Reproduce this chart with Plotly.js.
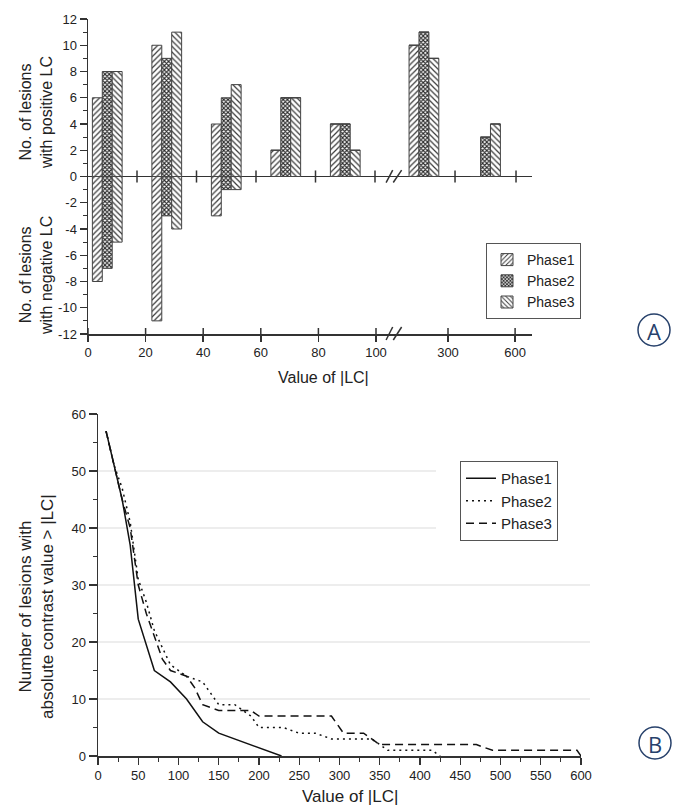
<!DOCTYPE html>
<html><head><meta charset="utf-8">
<script src="https://cdn.plot.ly/plotly-3.0.1.min.js"></script>
<style>html,body{margin:0;padding:0;background:#fff}#chart{width:682px;height:812px}</style>
</head><body><div id="chart"></div>
<script>
// ---------- Panel A data ----------
const lcBinEdges = [0, 20, 40, 60, 80, 100, 300, 600];
const phaseNames = ['Phase1', 'Phase2', 'Phase3'];
const phase1Positive = [6, 10, 4, 2, 4, 10, 0];
const phase1Negative = [-8, -11, -3, 0, 0, 0, 0];
const phase2Positive = [8, 9, 6, 6, 4, 11, 3];
const phase2Negative = [-7, -3, -1, 0, 0, 0, 0];
const phase3Positive = [8, 11, 7, 6, 2, 9, 4];
const phase3Negative = [-5, -4, -1, 0, 0, 0, 0];
const xTickLabelsA = [0, 20, 40, 60, 80, 100, 300, 600];
const yTicksA = [-12, -10, -8, -6, -4, -2, 0, 2, 4, 6, 8, 10, 12];

// ---------- Panel B data ----------
const phase1LC = [10, 20, 30, 40, 50, 70, 90, 110, 130, 150, 228];
const phase1Count = [57, 51, 45, 37, 24, 15, 13, 10, 6, 4, 0];
const phase2LC = [10, 20, 30, 40, 50, 60, 70, 80, 90, 110, 130, 150, 170, 190, 200, 230, 250, 270, 290, 340, 360, 415, 425];
const phase2Count = [57, 51, 47, 41, 31, 27, 22, 19, 16, 14, 13, 9, 9, 7, 5, 5, 4, 4, 3, 3, 1, 1, 0];
const phase3LC = [10, 20, 30, 40, 50, 60, 70, 80, 90, 110, 120, 130, 150, 190, 200, 290, 305, 330, 350, 470, 490, 595, 600];
const phase3Count = [57, 51, 45, 40, 30, 25, 21, 17, 15, 14, 12, 9, 8, 8, 7, 7, 4, 4, 2, 2, 1, 1, 0];
const gridValuesB = [10, 20, 30, 40, 50];

// ---------- helpers ----------
const W = 682, H = 812;
const px = v => v / W;
const py = v => 1 - v / H;
const FONT = 'Liberation Sans, Arial, sans-serif';
const INK = '#333';

// broken-axis segments (LC range -> axis units)
const segsBar = [
  {lc0: 0, lc1: 100, u0: 0, u1: 100},
  {lc0: 100, lc1: 300, u0: 106, u1: 126.9},
  {lc0: 300, lc1: 600, u0: 126.9, u1: 147.4}
];
const segsLabel = [
  {lc0: 0, lc1: 100, u0: 0, u1: 100},
  {lc0: 100, lc1: 300, u0: 106, u1: 125},
  {lc0: 300, lc1: 600, u0: 125, u1: 148.3}
];
function axisPos(lc, segs) {
  const s = segs.find(s => lc >= s.lc0 && lc <= s.lc1);
  return s.u0 + (lc - s.lc0) * (s.u1 - s.u0) / (s.lc1 - s.lc0);
}
function binCenter(lo, hi, segs) {
  const s = segs.find(s => lo >= s.lc0 && hi <= s.lc1);
  return s.u0 + ((lo + hi) / 2 - s.lc0) * (s.u1 - s.u0) / (s.lc1 - s.lc0);
}
const centers = lcBinEdges.slice(0, -1).map((lo, i) => binCenter(lo, lcBinEdges[i + 1], segsBar));

const positives = [phase1Positive, phase2Positive, phase3Positive];
const negatives = [phase1Negative, phase2Negative, phase3Negative];
const patterns = [
  {shape: '/', size: 4, solidity: 0.3, fgcolor: '#3a3a3a'},
  {shape: 'x', size: 3, solidity: 0.6, fgcolor: '#2a2a2a'},
  {shape: '\\', size: 4, solidity: 0.3, fgcolor: '#3a3a3a'}
];

const traces = [];
phaseNames.forEach((name, i) => {
  traces.push({
    type: 'bar', name: name,
    x: centers.concat(centers),
    y: positives[i].concat(negatives[i]),
    xaxis: 'x', yaxis: 'y',
    offsetgroup: String(i),
    legend: 'legend',
    hoverinfo: 'skip',
    marker: {
      color: '#ffffff',
      line: {color: '#444', width: 1},
      pattern: Object.assign({bgcolor: '#ffffff', fillmode: 'replace'}, patterns[i])
    }
  });
});
// empty trace so the label axis subplot exists
traces.push({type: 'scatter', x: [], y: [], xaxis: 'x2', yaxis: 'y', showlegend: false, hoverinfo: 'skip'});

const lineLC = [phase1LC, phase2LC, phase3LC];
const lineCount = [phase1Count, phase2Count, phase3Count];
const dashes = ['solid', '2px,4px', '8px,5px'];
phaseNames.forEach((name, i) => {
  traces.push({
    type: 'scatter', mode: 'lines', name: name,
    x: lineLC[i], y: lineCount[i],
    xaxis: 'x3', yaxis: 'y2',
    legend: 'legend2',
    hoverinfo: 'skip',
    line: {color: '#111', width: 1.5, dash: dashes[i]}
  });
});

// ---------- shapes ----------
const shapes = [];
xTickLabelsA.filter(v => v > 0).forEach(v => {
  const u = axisPos(v, segsBar);
  shapes.push({type: 'line', xref: 'x', yref: 'y', x0: u, x1: u, y0: -0.46, y1: 0.46, line: {color: INK, width: 1.5}});
});
xTickLabelsA.forEach(v => {
  const u = axisPos(v, segsLabel);
  shapes.push({type: 'line', xref: 'x2', yref: 'paper', x0: u, x1: u, y0: py(334), y1: py(328), line: {color: INK, width: 1.5}});
});
[[103.5, 105.8], [106.0, 108.9]].forEach(([a, b]) => {
  shapes.push({type: 'line', xref: 'x2', yref: 'y', x0: a, x1: b, y0: -0.46, y1: 0.48, line: {color: INK, width: 1.5}});
  shapes.push({type: 'line', xref: 'x2', yref: 'paper', x0: a, x1: b, y0: py(340), y1: py(327), line: {color: INK, width: 1.5}});
});
gridValuesB.forEach(v => {
  shapes.push({type: 'line', xref: 'paper', yref: 'y2', x0: px(98), x1: v >= 40 ? px(436) : px(590), y0: v, y1: v,
    layer: 'below', line: {color: '#dcdcdc', width: 1.2}});
});
const NAVY = '#27416b';
[[654, 330], [655, 743]].forEach(([cx, cy]) => {
  shapes.push({type: 'circle', xref: 'paper', yref: 'paper', x0: px(cx - 16), x1: px(cx + 16), y0: py(cy + 16), y1: py(cy - 16),
    line: {color: NAVY, width: 1.5}});
});

// ---------- annotations ----------
const ann = (text, x, y, size, angle) => ({
  text: text, xref: 'paper', yref: 'paper', x: px(x), y: py(y), xanchor: 'center', yanchor: 'middle',
  showarrow: false, textangle: angle || 0, font: {family: FONT, size: size, color: '#222'}
});
const annotations = [
  ann('No. of lesions<br>with positive LC', 36, 113, 16, -90),
  ann('No. of lesions<br>with negative LC', 36, 276, 16, -90),
  ann('Value of |LC|', 323, 377, 16),
  ann('Number of lesions with<br>absolute contrast value &gt; |LC|', 36, 607, 17, -90),
  ann('Value of |LC|', 350, 796, 17),
  {text: 'A', xref: 'paper', yref: 'paper', x: px(654), y: py(331), xanchor: 'center', yanchor: 'middle', showarrow: false,
    font: {family: 'Open Sans, sans-serif', size: 22, color: NAVY}},
  {text: 'B', xref: 'paper', yref: 'paper', x: px(655), y: py(744), xanchor: 'center', yanchor: 'middle', showarrow: false,
    font: {family: 'Open Sans, sans-serif', size: 22, color: NAVY}}
];

const tickFont = {family: FONT, size: 13, color: '#222'};
const layout = {
  width: W, height: H, autosize: false,
  margin: {l: 0, r: 0, t: 0, b: 0},
  paper_bgcolor: '#ffffff', plot_bgcolor: 'rgba(0,0,0,0)',
  font: {family: FONT, color: '#222'},
  barmode: 'group', bargap: 0.5, bargroupgap: 0,
  showlegend: true,
  xaxis: {domain: [px(88), px(532)], range: [(88 - 77.5) / 2.975, (532 - 77.5) / 2.975], visible: false, anchor: 'y', fixedrange: true},
  xaxis2: {domain: [px(88), px(532)], range: [0, (532 - 88) / 2.88], overlaying: 'x', anchor: 'y', side: 'bottom',
    tickmode: 'array', tickvals: xTickLabelsA.map(v => axisPos(v, segsLabel)), ticktext: xTickLabelsA.map(String),
    ticks: 'outside', ticklen: 6, tickwidth: 1.5, tickcolor: INK, showline: true, linecolor: INK, linewidth: 1.5,
    showgrid: false, zeroline: false, tickfont: tickFont, fixedrange: true},
  yaxis: {domain: [py(334), py(19)], range: [-12, 12], anchor: 'x',
    tickmode: 'array', tickvals: yTicksA, ticktext: yTicksA.map(String),
    ticks: 'outside', ticklen: 7, tickwidth: 1.2, tickcolor: INK,
    minor: {tickmode: 'array', tickvals: yTicksA.slice(1).map(v => v - 1), ticks: 'outside', ticklen: 4, tickcolor: INK, tickwidth: 1},
    showline: true, linecolor: INK, linewidth: 1.5, showgrid: false,
    zeroline: true, zerolinecolor: INK, zerolinewidth: 1.5, tickfont: tickFont, fixedrange: true},
  xaxis3: {domain: [px(98), px(581)], range: [0, 600], anchor: 'y2', tick0: 0, dtick: 50,
    ticks: 'outside', ticklen: 7, tickwidth: 1.2, tickcolor: INK,
    minor: {dtick: 25, ticks: 'outside', ticklen: 4, tickcolor: INK, tickwidth: 1},
    showline: true, linecolor: INK, linewidth: 1.5, showgrid: false, zeroline: false, tickfont: tickFont, fixedrange: true},
  yaxis2: {domain: [py(756), py(414)], range: [0, 60], anchor: 'x3', tick0: 0, dtick: 10,
    ticks: 'outside', ticklen: 8, tickwidth: 1.2, tickcolor: INK,
    minor: {dtick: 5, ticks: 'outside', ticklen: 4, tickcolor: INK, tickwidth: 1},
    showline: true, linecolor: INK, linewidth: 1.5, showgrid: false, zeroline: false, tickfont: tickFont, fixedrange: true},
  legend: {x: px(486), y: py(243), xanchor: 'left', yanchor: 'top', bgcolor: '#ffffff', bordercolor: '#555', borderwidth: 1,
    font: {family: FONT, size: 14, color: '#222'}, tracegroupgap: 0, itemwidth: 30},
  legend2: {x: px(460), y: py(461), xanchor: 'left', yanchor: 'top', bgcolor: '#ffffff', bordercolor: '#555', borderwidth: 1,
    font: {family: FONT, size: 15, color: '#222'}, tracegroupgap: 0, itemwidth: 30},
  shapes: shapes,
  annotations: annotations
};

Plotly.newPlot('chart', traces, layout, {staticPlot: true, displayModeBar: false});
</script>
</body></html>
